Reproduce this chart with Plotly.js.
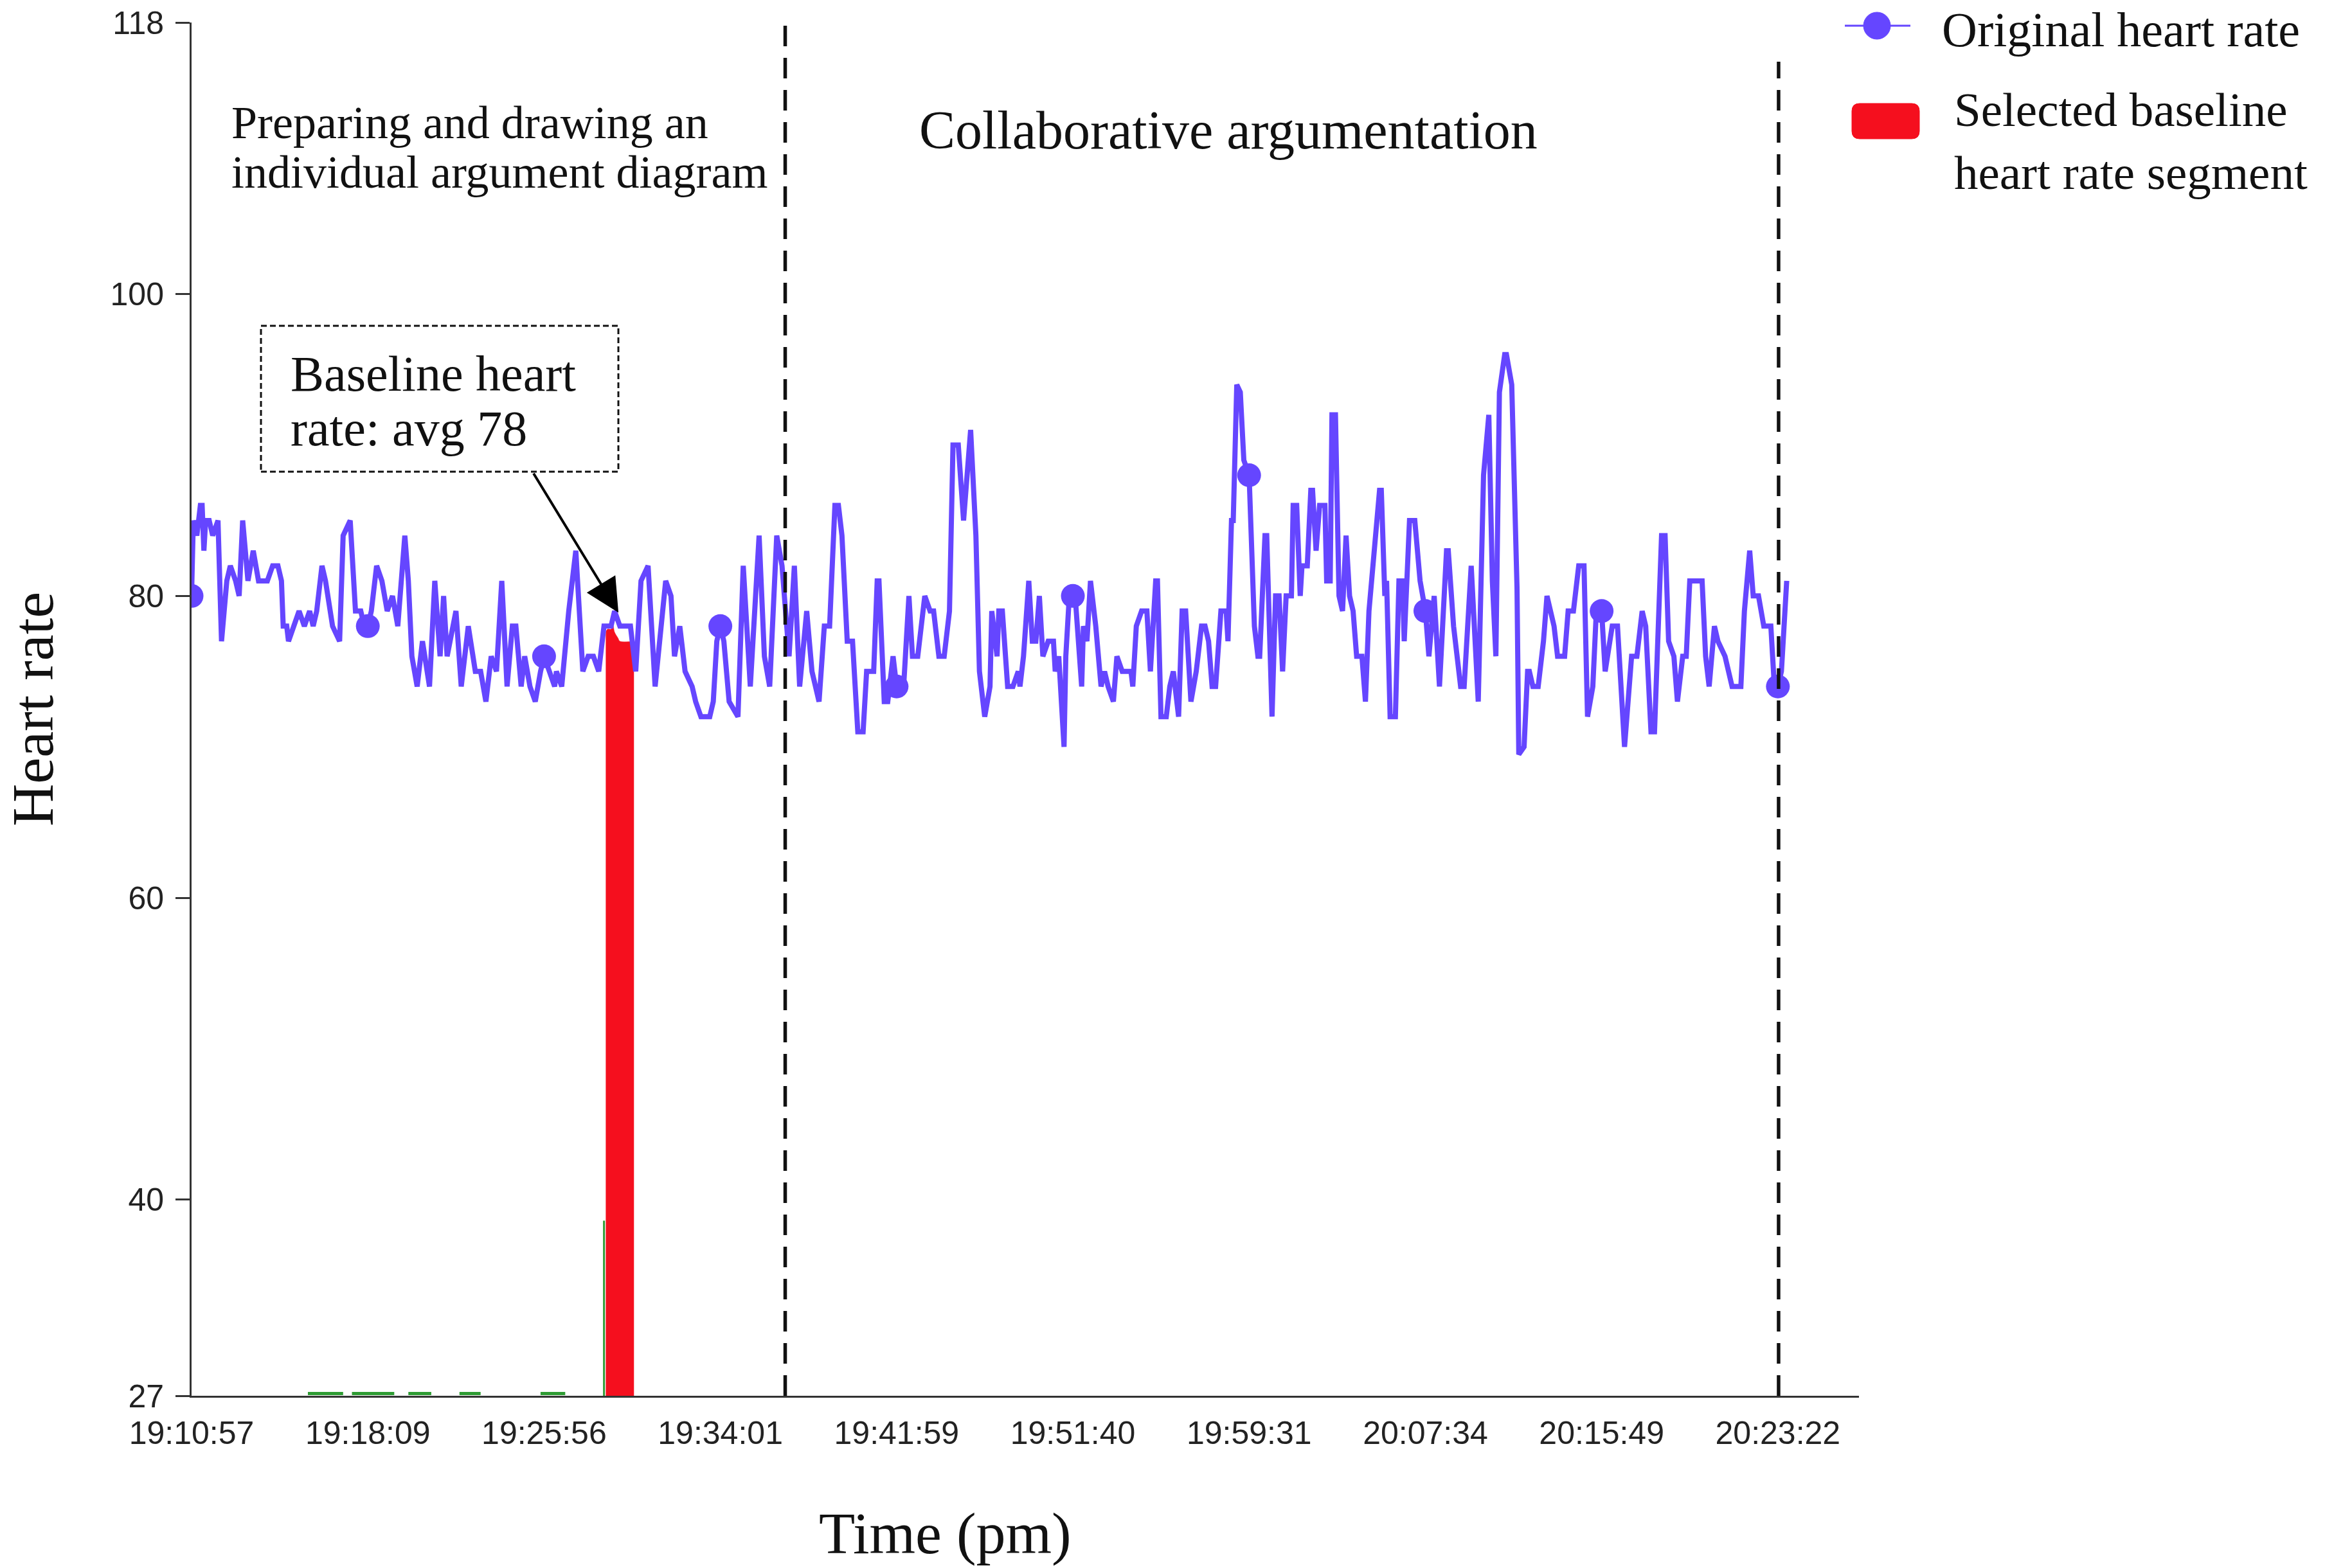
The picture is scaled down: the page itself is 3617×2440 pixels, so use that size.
<!DOCTYPE html>
<html>
<head>
<meta charset="utf-8">
<script src="https://cdn.plot.ly/plotly-3.0.1.min.js"></script>
<style>
  html, body { margin: 0; padding: 0; background: #ffffff; }
  #chart { width: 3617px; height: 2440px; }
</style>
</head>
<body>
<div id="chart"></div>
<script>
// ---------------- DATA ----------------
// Sample index along the recording; tick labels give the clock time.
const sampleIdx = [
  0,1,3,5,6,7,8,10,12,15,17,20,22,25,27,29,32,35,38,43,
  46,49,51,52,54,55,58,61,64,67,69,71,74,76,80,84,86,90,93,96,
  98,100,102,105,108,111,114,117,121,123,125,128,131,135,138,141,143,145,150,153,
  157,161,164,167,170,173,176,179,182,184,187,189,192,195,198,200,203,206,207,210,
  214,218,222,225,228,231,234,238,240,243,249,252,255,259,263,269,272,274,277,280,
  284,286,289,294,296,298,300,302,305,310,313,317,322,325,328,332,335,339,342,345,
  349,352,356,359,362,365,367,369,372,375,378,381,383,387,389,390,393,395,398,400,
  404,407,409,412,416,419,421,424,427,430,432,435,438,440,442,445,447,450,453,454,
  457,458,460,463,466,469,470,472,475,477,479,481,483,486,489,490,492,495,496,498,
  500,501,505,506,508,510,513,516,518,520,523,525,528,533,534,536,539,542,544,547,
  548,550,553,555,557,560,562,564,567,570,573,575,577,579,581,584,587,588,590,591,
  593,595,597,600,603,605,606,609,610,613,615,617,619,621,624,625,627,629,630,633,
  635,636,638,640,643,644,646,647,649,651,653,655,657,659,661,664,666,668,671,674,
  675,677,678,680,683,685,687,688,691,694,697,700,702,705,708,712,713,716,720,722,
  726,730,733,736,738,740,742,745,746,749,752,753,756,758,759,761,764,767,769,773,
  775,779,781,784,787,790,792,795,797,800,802,806,809,811,813,817,820,823,825,828,
  830,834,836,838,841,843,846,848,850,857,859,861,864,866,870,874,879,881,884,886,
  889,892,896,898,900,902,905
];
const heartRate = [
  80,85,84,86,86,83,85,85,84,85,77,81,82,81,80,85,81,83,81,81,
  82,82,81,78,78,77,78,79,78,79,78,79,82,81,78,77,84,85,79,79,
  78,78,79,82,81,79,80,78,84,81,76,74,77,74,81,76,80,76,79,74,
  78,75,75,73,76,75,81,74,78,78,74,76,74,73,75,76,75,74,75,74,
  79,83,75,76,76,75,78,78,79,78,78,75,81,82,74,81,80,76,78,75,
  74,73,72,72,73,77,78,77,73,72,82,74,84,76,74,84,82,76,82,74,
  79,75,73,78,78,86,86,84,77,77,71,71,75,75,81,81,73,73,76,74,
  74,80,76,76,80,79,79,76,76,79,90,90,85,88,91,84,75,72,74,79,
  76,79,79,74,74,75,74,76,81,77,77,80,76,77,77,75,76,70,76,80,
  80,80.5,74,78,77,81,78,74,75,74,73,76,75,75,74,78,79,79,75,81,
  81,72,72,74,75,72,79,79,73,75,78,78,77,74,74,79,79,77,85,85,
  94,93.5,89,88,78,76,76,84,84,72,80,80,75,80,80,86,86,80,82,82,
  87,87,83,86,86,81,81,92,92,80,79,84,80,79,76,76,73,79,83,87,
  87,80,81,72,72,81,81,77,85,85,81,79,76,80,74,83,83,78,74,74,
  82,73,88,92,81,76,93.5,96,96,94,80.5,69.5,70,75,75,74,74,77,80,78,
  76,76,79,79,82,82,72,74,79,79,75,78,78,73.5,70,76,76,79,78,71,
  71,84,84,77,76,73,76,76,81,81,76,74,78,77,76,74,74,79,83,80,
  80,78,78,74,74,75,81
];

// Highlighted samples (big dots) at each labelled time
const markerIdx = [0, 100, 200, 300, 400, 500, 600, 700, 800, 900];
const markerHR  = [80, 78, 76, 78, 74, 80, 88, 79, 79, 74];

// X tick labels (clock time, pm)
const tickIdx   = [0, 100, 200, 300, 400, 500, 600, 700, 800, 900];
const tickTimes = ["19:10:57","19:18:09","19:25:56","19:34:01","19:41:59",
                   "19:51:40","19:59:31","20:07:34","20:15:49","20:23:22"];

// Y tick values
const yTicks = [27, 40, 60, 80, 100, 118];

// Selected baseline heart-rate segment (red)
const baselineIdx = [235, 236, 238, 239, 240, 242, 243, 251];
const baselineHR  = [77.6, 77.8, 77.8, 78.1, 77.6, 77.2, 77, 77];

// Small green marks near the bottom
const greenIdx = [66, 86, null, 91, 115, null, 123, 136, null, 152, 164, null, 198, 212];
const greenHR  = [27.15, 27.15, null, 27.15, 27.15, null, 27.15, 27.15, null, 27.15, 27.15, null, 27.15, 27.15];
const stemIdx = [234, 234];
const stemHR  = [27, 38.6];

// Phase boundaries (sample index)
const phaseBounds = [336.8, 900.4];

// ---------------- LAYOUT HELPERS ----------------
const W = 3617, H = 2440;
const L = 298, T = 35, PW = 2594, PH = 2137;   // plot area in pixels
const PX = px => (px - L) / PW;
const PY = py => (T + PH - py) / PH;

const purple = '#6546ff';
const red = '#f50f1e';
const green = '#2e9b33';
const serif = 'Liberation Serif, Times New Roman, serif';
const sans = 'Liberation Sans, Arial, sans-serif';

function roundRect(x0, y0, x1, y1, r) {
  const p = (x, y) => PX(x) + ',' + PY(y);
  return 'M' + p(x0 + r, y0) + ' L' + p(x1 - r, y0) + ' Q' + p(x1, y0) + ' ' + p(x1, y0 + r) +
         ' L' + p(x1, y1 - r) + ' Q' + p(x1, y1) + ' ' + p(x1 - r, y1) +
         ' L' + p(x0 + r, y1) + ' Q' + p(x0, y1) + ' ' + p(x0, y1 - r) +
         ' L' + p(x0, y0 + r) + ' Q' + p(x0, y0) + ' ' + p(x0 + r, y0) + ' Z';
}

// ---------------- TRACES ----------------
const traces = [
  {
    x: greenIdx, y: greenHR, type: 'scatter', mode: 'lines',
    line: { color: green, width: 5 }, hoverinfo: 'skip', showlegend: false
  },
  {
    x: stemIdx, y: stemHR, type: 'scatter', mode: 'lines',
    line: { color: green, width: 3 }, hoverinfo: 'skip', showlegend: false
  },
  {
    x: baselineIdx, y: baselineHR, type: 'scatter', mode: 'lines',
    fill: 'tozeroy', fillcolor: red, line: { color: red, width: 0.5, shape: 'spline' },
    name: 'Selected baseline heart rate segment', showlegend: false
  },
  {
    x: sampleIdx, y: heartRate, type: 'scatter', mode: 'lines',
    line: { color: purple, width: 8 },
    name: 'Original heart rate', showlegend: false
  },
  {
    x: markerIdx, y: markerHR, type: 'scatter', mode: 'markers',
    marker: { color: purple, size: 37 },
    name: 'Original heart rate', showlegend: false
  }
];

// ---------------- SHAPES ----------------
const shapes = [
  // phase boundaries
  { type: 'line', xref: 'x', yref: 'paper', x0: phaseBounds[0], x1: phaseBounds[0],
    y0: 0, y1: PY(27), line: { color: '#111', width: 5.5, dash: '32px,18px' } },
  { type: 'line', xref: 'x', yref: 'paper', x0: phaseBounds[1], x1: phaseBounds[1],
    y0: 0, y1: PY(96), line: { color: '#111', width: 5.5, dash: '32px,18px' } },
  // dashed annotation box
  { type: 'rect', xref: 'paper', yref: 'paper', x0: PX(406), x1: PX(962), y0: PY(734), y1: PY(507),
    line: { color: '#111', width: 3, dash: '9px,5px' }, fillcolor: 'rgba(0,0,0,0)' },
  // legend: line + dot symbol
  { type: 'line', xref: 'paper', yref: 'paper', x0: PX(2870), x1: PX(2972), y0: PY(40), y1: PY(40),
    line: { color: purple, width: 3 } },
  { type: 'circle', xref: 'paper', yref: 'paper', x0: PX(2899), x1: PX(2941), y0: PY(61), y1: PY(19),
    fillcolor: purple, line: { color: purple, width: 1 } },
  // legend: red rounded rectangle
  { type: 'path', xref: 'paper', yref: 'paper', path: roundRect(2881, 161, 2986, 216, 12),
    fillcolor: red, line: { color: red, width: 1 } }
];

// ---------------- ANNOTATIONS ----------------
function txt(text, px, py, size, anchor, align) {
  return { text: text, xref: 'paper', yref: 'paper', x: PX(px), y: PY(py),
           xanchor: anchor || 'left', yanchor: 'middle', align: align || 'left', showarrow: false,
           font: { family: serif, size: size, color: '#111' } };
}
const annotations = [
  txt('Preparing and drawing an', 358, 191, 72),
  txt('individual argument diagram', 358, 268, 72),
  txt('Collaborative argumentation', 1911, 203, 84, 'center', 'center'),
  txt('Baseline heart', 450, 581, 78),
  txt('rate: avg 78', 450, 666, 78),
  txt('Original heart rate', 3019, 46, 76),
  txt('Selected baseline<br>heart rate segment', 3038, 220, 75),
  txt('Time (pm)', 1470, 2386, 92, 'center', 'center'),
  // arrow pointing at the baseline segment
  { text: '', x: 242.2, y: 78.9, xref: 'x', yref: 'y', showarrow: true,
    ax: -133, ay: -218, axref: 'pixel', ayref: 'pixel',
    arrowhead: 2, arrowsize: 2.6, arrowwidth: 4, arrowcolor: '#000', standoff: 0 }
];

// ---------------- LAYOUT ----------------
const layout = {
  width: W, height: H, autosize: false,
  margin: { l: L, r: W - L - PW, t: T, b: H - T - PH, pad: 0 },
  paper_bgcolor: '#ffffff', plot_bgcolor: '#ffffff',
  showlegend: false,
  xaxis: {
    range: [0, 946], tickvals: tickIdx, ticktext: tickTimes,
    showgrid: false, zeroline: false, showline: true, linecolor: '#333', linewidth: 3,
    ticks: '', ticklabelstandoff: 12,
    tickfont: { family: sans, size: 50, color: '#222' }
  },
  yaxis: {
    range: [27, 118], tickvals: yTicks, ticktext: yTicks.map(String),
    showgrid: false, zeroline: false, showline: true, linecolor: '#333', linewidth: 3,
    ticks: 'outside', ticklen: 22, tickwidth: 3, tickcolor: '#333', ticklabelstandoff: 8,
    tickfont: { family: sans, size: 50, color: '#222' },
    title: { text: 'Heart rate', font: { family: serif, size: 92, color: '#111' }, standoff: 88 }
  },
  shapes: shapes,
  annotations: annotations
};

Plotly.newPlot('chart', traces, layout, { staticPlot: true, displayModeBar: false });
</script>
</body>
</html>
